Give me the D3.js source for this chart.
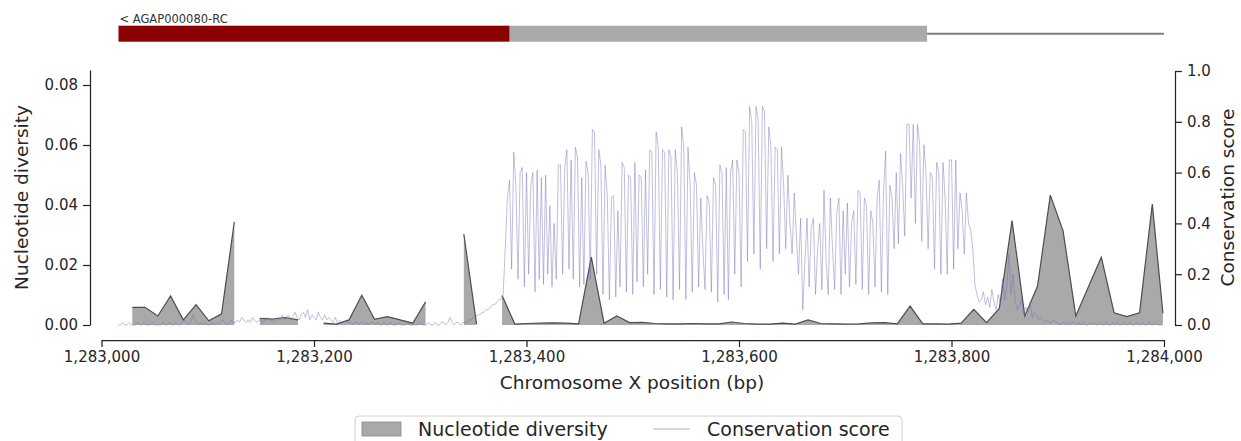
<!DOCTYPE html>
<html>
<head>
<meta charset="utf-8">
<script src="https://cdn.jsdelivr.net/npm/d3@7"></script>
<style>
  body { margin: 0; background: #fff; }
  svg { display: block; font-family: "DejaVu Sans", sans-serif; }
</style>
</head>
<body>
<svg id="chart" width="1241" height="441"></svg>
<script>
// region shown on the x axis (Chromosome X)
const regionStart = 1283000
const regionEnd = 1284000
const xTicks = [1283000, 1283200, 1283400, 1283600, 1283800, 1284000]
const divTicks = [0, 0.02, 0.04, 0.06, 0.08]
const consTicks = [0, 0.2, 0.4, 0.6, 0.8, 1.0]

// gene AGAP000080-RC (reverse strand)
const geneName = "< AGAP000080-RC"
const geneCds = [1283016, 1283384]
const geneUtr = [1283384, 1283777]
const geneIntron = [1283777, 1284000]

// nucleotide diversity windows (offset from regionStart), null = no data
const divOffsets = [29, 41, 53, 65, 77, 89, 101, 113, 125, 137,
  149, 161, 173, 185, 197,
  209, 221, 233, 245, 257, 269, 281, 293, 305, 317, 329,
  341, 353, 365,
  377, 389, 401, 413, 425, 437, 449, 461, 473, 485, 497, 509, 521, 533, 545, 557,
  569, 581, 593, 605, 617, 629, 641, 653, 665, 677, 689, 701, 713, 725, 737, 749,
  761, 773, 785, 797, 809, 821, 833, 845, 857, 869, 881, 893, 905, 917, 929, 941,
  953, 965, 977, 989, 999]
const divValues = [0.0059, 0.0059, 0.003, 0.0097, 0.0017, 0.0068, 0.0014, 0.0037, 0.0344, null,
  0.0022, 0.002, 0.0025, 0.0017, null,
  0.0006, 0.0003, 0.0017, 0.0099, 0.0019, 0.0028, 0.0017, 0.0006, 0.0077, null, null,
  0.0303, 0.0003, null,
  0.0098, 0.0003, 0.0005, 0.0006, 0.0007, 0.0006, 0.0004, 0.0226, 0.0006, 0.003, 0.0008, 0.0009, 0.0005, 0.0004, 0.0004, 0.0005,
  0.0004, 0.0004, 0.001, 0.0005, 0.0003, 0.0003, 0.0006, 0.0003, 0.0017, 0.0005, 0.0004, 0.0003, 0.0004, 0.0007, 0.0008, 0.0004,
  0.0063, 0.0004, 0.0004, 0.0003, 0.0006, 0.0052, 0.0008, 0.0055, 0.0348, 0.003, 0.013, 0.0433, 0.0314, 0.003, 0.0128, 0.0226,
  0.0041, 0.0028, 0.0041, 0.0403, 0.0039]

// conservation score, one value every 2 bp from consStart
const consStart = 1283016
const consStep = 2
const consValues = [
  0.00,0.00,0.01,0.00,0.00,0.01,0.00,0.00,0.00,0.01,0.00,0.00,0.01,0.00,0.00,0.00,0.01,0.00,0.00,0.00,
  0.00,0.01,0.00,0.00,0.01,0.00,0.00,0.01,0.00,0.00,0.01,0.02,0.01,0.00,0.01,0.04,0.02,0.01,0.00,0.01,
  0.00,0.01,0.00,0.00,0.01,0.00,0.01,0.00,0.01,0.02,0.01,0.00,0.01,0.02,0.01,0.01,0.02,0.01,0.03,0.02,
  0.01,0.02,0.01,0.03,0.02,0.01,0.02,0.02,0.01,0.02,0.03,0.02,0.02,0.01,0.02,0.03,0.02,0.04,0.02,0.03,
  0.04,0.02,0.03,0.05,0.03,0.02,0.04,0.05,0.03,0.06,0.02,0.04,0.03,0.02,0.05,0.03,0.02,0.04,0.02,0.03,
  0.02,0.01,0.03,0.01,0.02,0.01,0.01,0.02,0.01,0.01,0.00,0.01,0.01,0.00,0.01,0.01,0.00,0.01,0.00,0.01,
  0.01,0.00,0.01,0.00,0.00,0.01,0.00,0.00,0.01,0.00,0.00,0.00,0.01,0.00,0.00,0.00,0.01,0.00,0.00,0.00,
  0.00,0.00,0.01,0.00,0.00,0.00,0.01,0.00,0.00,0.01,0.00,0.00,0.01,0.01,0.00,0.01,0.03,0.01,0.00,0.01,
  0.01,0.00,0.01,0.01,0.01,0.02,0.02,0.03,0.03,0.04,0.04,0.05,0.05,0.06,0.06,0.07,0.08,0.08,0.09,0.10,0.10,0.12,
  0.30,0.50,0.57,0.22,0.68,0.55,0.18,0.60,0.62,0.15,0.60,0.20,0.55,0.60,0.13,0.61,0.18,0.58,0.16,0.59,
  0.20,0.47,0.15,0.40,0.18,0.63,0.63,0.20,0.62,0.69,0.22,0.65,0.18,0.70,0.66,0.15,0.58,0.16,0.645,0.60,
  0.18,0.77,0.76,0.20,0.69,0.63,0.12,0.63,0.51,0.10,0.50,0.51,0.11,0.45,0.15,0.64,0.62,0.13,0.59,0.58,
  0.12,0.64,0.17,0.59,0.58,0.15,0.61,0.20,0.69,0.68,0.12,0.76,0.70,0.14,0.69,0.68,0.11,0.69,0.66,0.10,
  0.69,0.60,0.14,0.78,0.70,0.10,0.70,0.55,0.13,0.60,0.55,0.15,0.50,0.30,0.14,0.51,0.48,0.13,0.58,0.55,
  0.09,0.63,0.60,0.12,0.62,0.10,0.60,0.65,0.20,0.65,0.60,0.15,0.77,0.76,0.25,0.86,0.80,0.28,0.86,0.81,
  0.22,0.86,0.84,0.30,0.78,0.70,0.25,0.70,0.69,0.28,0.70,0.55,0.30,0.59,0.40,0.28,0.52,0.35,0.20,0.42,
  0.06,0.25,0.42,0.15,0.38,0.42,0.12,0.30,0.40,0.14,0.53,0.25,0.12,0.50,0.30,0.14,0.44,0.50,0.12,0.45,
  0.20,0.48,0.15,0.40,0.45,0.16,0.53,0.52,0.14,0.50,0.47,0.12,0.45,0.40,0.15,0.50,0.57,0.13,0.52,0.685,
  0.12,0.55,0.50,0.30,0.60,0.32,0.676,0.55,0.35,0.79,0.79,0.50,0.79,0.40,0.79,0.71,0.33,0.71,0.60,0.30,
  0.60,0.58,0.22,0.64,0.60,0.20,0.64,0.50,0.20,0.65,0.65,0.22,0.65,0.30,0.52,0.45,0.28,0.52,0.40,0.375,
  0.30,0.16,0.12,0.09,0.10,0.13,0.08,0.11,0.07,0.14,0.09,0.06,0.12,0.08,0.18,0.10,0.15,0.28,0.12,0.20,
  0.09,0.06,0.08,0.10,0.04,0.07,0.05,0.09,0.03,0.05,0.04,0.02,0.03,0.02,0.01,0.02,0.01,0.01,0.02,0.01,
  0.01,0.00,0.01,0.01,0.00,0.01,0.00,0.01,0.01,0.00,0.01,0.00,0.01,0.00,0.00,0.01,0.00,0.01,0.00,0.00,
  0.01,0.00,0.00,0.01,0.00,0.00,0.01,0.00,0.01,0.00,0.00,0.01,0.00,0.00,0.01,0.00,0.00,0.01,0.00,0.00,
  0.01,0.00,0.00,0.01,0.00,0.00,0.01,0.00,0.00,0.00]

const divColor = "#a9a9a9"
const divEdge = "#4d4d4d"
const consColor = "#6b6bb8"
const ink = "#262626"

const svg = d3.select("#chart")

const x = d3.scaleLinear().domain([regionStart, regionEnd]).range([101.5, 1164])
const yDiv = d3.scaleLinear().domain([0, 0.085]).range([325, 70])
const yCons = d3.scaleLinear().domain([0, 1.0]).range([325, 71])

// ---- gene track
const gene = svg.append("g")
gene.append("line")
    .attr("x1", x(geneIntron[0])).attr("x2", x(geneIntron[1]))
    .attr("y1", 33.7).attr("y2", 33.7)
    .attr("stroke", "#7f7f7f").attr("stroke-width", 2)
gene.append("rect")
    .attr("x", x(geneUtr[0])).attr("width", x(geneUtr[1]) - x(geneUtr[0]))
    .attr("y", 25.7).attr("height", 16)
    .attr("fill", "#a9a9a9")
gene.append("rect")
    .attr("x", x(geneCds[0])).attr("width", x(geneCds[1]) - x(geneCds[0]))
    .attr("y", 25.7).attr("height", 16)
    .attr("fill", "#8b0000")
gene.append("text")
    .attr("x", x(geneCds[0]) + 1).attr("y", 22.5)
    .attr("font-size", "11.5px").attr("fill", "#333")
    .text(geneName)

// ---- diversity area
const divData = divOffsets.map((o, i) => ({pos: regionStart + o, v: divValues[i]}))

const area = d3.area()
    .defined(d => d.v !== null)
    .x(d => x(d.pos))
    .y0(yDiv(0))
    .y1(d => yDiv(d.v))
const edge = d3.line()
    .defined(d => d.v !== null)
    .x(d => x(d.pos))
    .y(d => yDiv(d.v))

svg.append("path").datum(divData)
    .attr("d", area).attr("fill", divColor)
svg.append("path").datum(divData)
    .attr("d", edge).attr("fill", "none")
    .attr("stroke", divEdge).attr("stroke-width", 1.2)

// ---- conservation line
const consData = consValues.map((v, i) => ({pos: consStart + i * consStep, v: v}))
svg.append("path").datum(consData)
    .attr("d", d3.line().x(d => x(d.pos)).y(d => yCons(d.v)))
    .attr("fill", "none").attr("stroke", consColor)
    .attr("stroke-opacity", 0.55).attr("stroke-width", 0.8)

// ---- axes
function styleAxis(g) {
  g.select(".domain").attr("stroke", ink).attr("stroke-width", 1.25)
  g.selectAll(".tick line").attr("stroke", ink).attr("stroke-width", 1.25)
  g.selectAll(".tick text").attr("fill", ink).attr("font-size", "15px")
      .attr("font-family", "DejaVu Sans")
}

svg.append("g").attr("transform", "translate(0,340)")
   .call(d3.axisBottom(x).tickValues(xTicks).tickFormat(d3.format(","))
          .tickSize(7).tickSizeOuter(0).tickPadding(4))
   .call(styleAxis)

svg.append("g").attr("transform", "translate(90,0)")
   .call(d3.axisLeft(yDiv).tickValues(divTicks).tickFormat(d3.format(".2f"))
          .tickSize(7).tickSizeOuter(0).tickPadding(5))
   .call(styleAxis)

svg.append("g").attr("transform", "translate(1175,0)")
   .call(d3.axisRight(yCons).tickValues(consTicks).tickFormat(d3.format(".1f"))
          .tickSize(7).tickSizeOuter(0).tickPadding(5))
   .call(styleAxis)

// ---- axis labels
svg.append("text")
   .attr("x", 632).attr("y", 389)
   .attr("text-anchor", "middle").attr("font-size", "18.5px").attr("fill", ink)
   .text("Chromosome X position (bp)")
svg.append("text")
   .attr("transform", "translate(28,197.5) rotate(-90)")
   .attr("text-anchor", "middle").attr("font-size", "18.5px").attr("fill", ink)
   .text("Nucleotide diversity")
svg.append("text")
   .attr("transform", "translate(1234,197.5) rotate(-90)")
   .attr("text-anchor", "middle").attr("font-size", "18.5px").attr("fill", ink)
   .text("Conservation score")

// ---- legend
const legend = svg.append("g")
legend.append("rect")
   .attr("x", 355).attr("y", 416).attr("width", 547).attr("height", 40)
   .attr("rx", 4).attr("fill", "#fff").attr("stroke", "#d0d0d0")
legend.append("rect")
   .attr("x", 362).attr("y", 422).attr("width", 39).attr("height", 14)
   .attr("fill", divColor).attr("stroke", "#8a8a8a").attr("stroke-width", 0.8)
legend.append("text")
   .attr("x", 418).attr("y", 435.5).attr("font-size", "19px").attr("fill", ink)
   .text("Nucleotide diversity")
legend.append("line")
   .attr("x1", 653).attr("x2", 690).attr("y1", 429).attr("y2", 429)
   .attr("stroke", consColor).attr("stroke-opacity", 0.55).attr("stroke-width", 1)
legend.append("text")
   .attr("x", 707).attr("y", 435.5).attr("font-size", "19px").attr("fill", ink)
   .text("Conservation score")
</script>
</body>
</html>
